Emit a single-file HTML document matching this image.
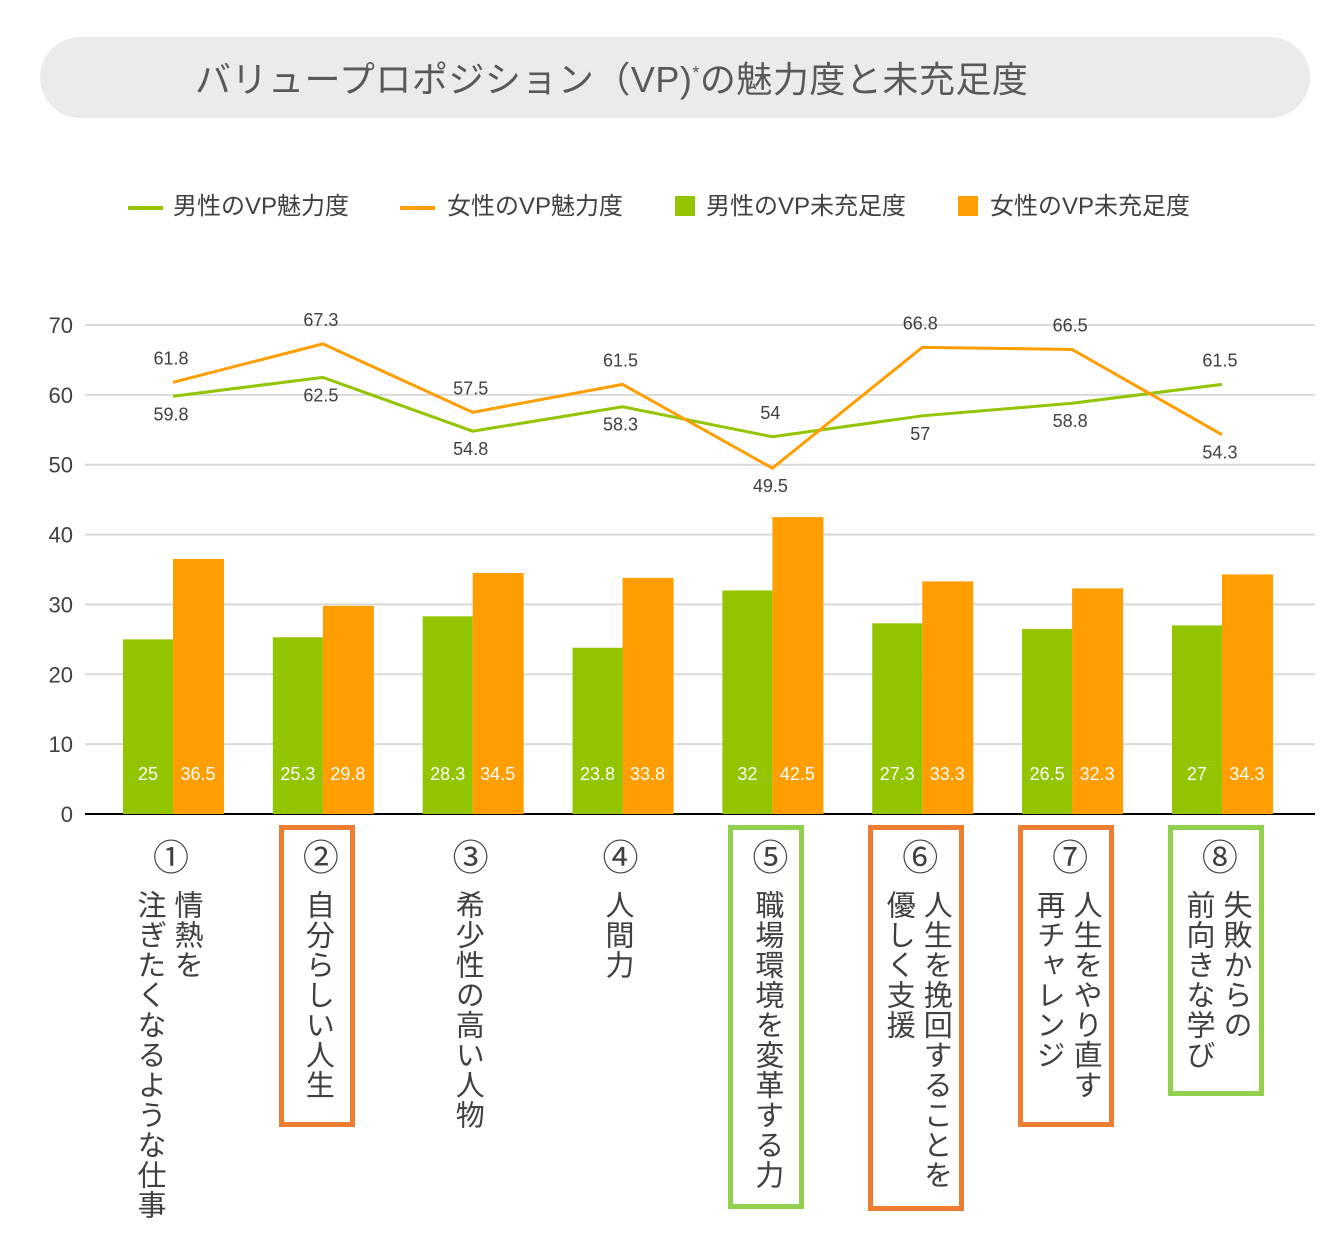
<!DOCTYPE html>
<html><head><meta charset="utf-8">
<style>
body{margin:0;width:1336px;height:1234px;background:#fff;position:relative;overflow:hidden;font-family:"Liberation Sans","Noto Sans CJK JP",sans-serif;}
#title{position:absolute;left:40px;top:37px;width:1270px;height:81px;background:#ebebeb;border-radius:41px;}
#title span{position:absolute;left:155px;top:14px;font-size:36px;color:#595959;letter-spacing:0.5px;}
.leg{position:absolute;top:186px;font-size:24px;color:#404040;}
.cat{position:absolute;top:838px;color:#404040;}
.num{font-size:36px;text-align:center;width:100%;line-height:40px;}
.vt{writing-mode:vertical-rl;font-size:29px;line-height:37px;margin:12px auto 0;letter-spacing:1px;position:relative;left:-4px;}
.box{position:absolute;border:5px solid;box-sizing:border-box;}
</style></head><body>
<div id="title"><span>バリュープロポジション（VP)<sup style="font-size:18px">*</sup>の魅力度と未充足度</span></div>
<div class="leg" style="left:128px"><span style="display:inline-block;width:35px;height:4px;background:#92c400;vertical-align:middle;margin-right:10px"></span>男性のVP魅力度</div>
<div class="leg" style="left:400px"><span style="display:inline-block;width:35px;height:4px;background:#ff9e00;vertical-align:middle;margin-right:12px"></span>女性のVP魅力度</div>
<div class="leg" style="left:675px"><span style="display:inline-block;width:20px;height:20px;background:#92c400;vertical-align:-2px;margin-right:11px"></span>男性のVP未充足度</div>
<div class="leg" style="left:958px"><span style="display:inline-block;width:20px;height:20px;background:#ff9e00;vertical-align:-2px;margin-right:12px"></span>女性のVP未充足度</div>
<svg id="chart" width="1336" height="1234" style="position:absolute;left:0;top:0"></svg>
<div id="cats"></div>
<script>
const categories=["①","②","③","④","⑤","⑥","⑦","⑧"];
const catText=["情熱を\n注ぎたくなるような仕事","自分らしい人生","希少性の高い人物","人間力","職場環境を変革する力","人生を挽回することを\n優しく支援","人生をやり直す\n再チャレンジ","失敗からの\n前向きな学び"];
const maleAppeal=[59.8,62.5,54.8,58.3,54,57,58.8,61.5];
const femaleAppeal=[61.8,67.3,57.5,61.5,49.5,66.8,66.5,54.3];
const maleUnmet=[25,25.3,28.3,23.8,32,27.3,26.5,27];
const femaleUnmet=[36.5,29.8,34.5,33.8,42.5,33.3,32.3,34.3];
const maleLabelAbove=[false,false,false,false,true,false,false,true];
const femaleLabelAbove=[true,true,true,true,false,true,true,false];
const yTicks=[0,10,20,30,40,50,60,70];
const boxes=[null,"#ed7d31",null,null,"#92d050","#ed7d31","#ed7d31","#92d050"];
const boxH=[0,302,0,0,384,386,302,271];
const y=v=>814-v*489/70;
const x=i=>173+i*149.85;
const svg=document.getElementById('chart');
const NS="http://www.w3.org/2000/svg";
function mk(t,a){const e=document.createElementNS(NS,t);for(const k in a)e.setAttribute(k,a[k]);svg.appendChild(e);return e;}
yTicks.forEach(t=>{
 const l=mk('line',{x1:85,x2:1315,y1:y(t),y2:y(t),stroke:t===0?'#000':'#d9d9d9','stroke-width':2});
 
 
 const tx=mk('text',{x:73,y:y(t)+8,'text-anchor':'end','font-size':22,fill:'#404040'});
 tx.textContent=t;
 
 
});
categories.forEach((c,i)=>{
 const b1=mk('rect',{x:x(i)-50,y:y(maleUnmet[i]),width:50,height:814-y(maleUnmet[i]),fill:'#92c400'});
 
 
 const b2=mk('rect',{x:x(i),y:y(femaleUnmet[i]),width:51,height:814-y(femaleUnmet[i]),fill:'#ff9e00'});
 
 
 const t1=mk('text',{x:x(i)-25,y:780,'text-anchor':'middle','font-size':18,fill:'#fff'});t1.textContent=maleUnmet[i];
 
 
 const t2=mk('text',{x:x(i)+25,y:780,'text-anchor':'middle','font-size':18,fill:'#fff'});t2.textContent=femaleUnmet[i];
 
 
});
function line(vals,col,name,above){
 const p=mk('polyline',{points:vals.map((v,i)=>x(i)+','+y(v)).join(' '),fill:'none',stroke:col,'stroke-width':3});
 
 
 vals.forEach((v,i)=>{
  const t=mk('text',{x:x(i)-2,y:above[i]?y(v)-18:y(v)+24,'text-anchor':'middle','font-size':18,fill:'#404040'});
  t.textContent=v;
  
  
 });
}
line(maleAppeal,'#92c400','line-male-appeal',maleLabelAbove);
line(femaleAppeal,'#ff9e00','line-female-appeal',femaleLabelAbove);
const cd=document.getElementById('cats');
categories.forEach((c,i)=>{
 const d=document.createElement('div');
 d.className='cat';
 d.style.left=(x(i)-62)+'px';d.style.width='120px';
 
 
 d.innerHTML='<div class="num">'+c+'</div><div class="vt">'+catText[i].replace('\n','<br>')+'</div>';
 cd.appendChild(d);
 if(boxes[i]){
  const b=document.createElement('div');
  b.className='box';
  const cols=catText[i].split('\n').length;
  const w=cols>1?96:76;
  b.style.left=(x(i)-6-w/2)+'px';b.style.top='825px';b.style.width=w+'px';b.style.height=boxH[i]+'px';b.style.borderColor=boxes[i];
  
  
  cd.appendChild(b);
 }
});
</script>
</body></html>
